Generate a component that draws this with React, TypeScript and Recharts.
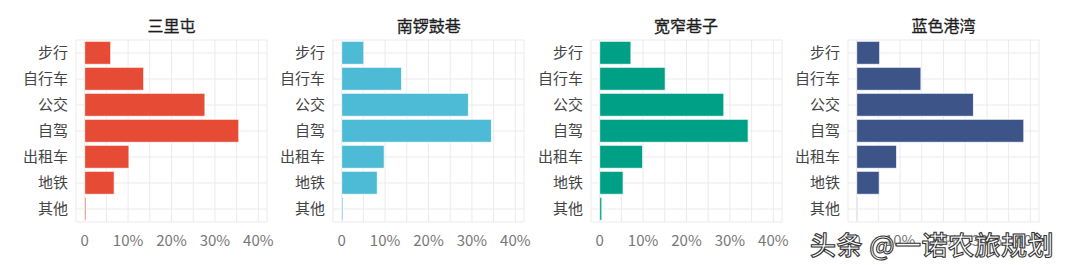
import { BarChart, Bar, CartesianGrid, XAxis, YAxis } from 'recharts';

const categories = ['步行', '自行车', '公交', '自驾', '出租车', '地铁', '其他'];
const panelTitles = ['三里屯', '南锣鼓巷', '宽窄巷子', '蓝色港湾'];
const sanlitun = [6.0, 13.6, 27.7, 35.5, 10.2, 6.8, 0.3];
const nanluogu = [5.1, 13.8, 29.2, 34.5, 9.8, 8.2, 0.3];
const kuanzhai = [7.2, 15.1, 28.6, 34.2, 9.9, 5.4, 0.5];
const lanse = [5.3, 14.8, 26.9, 38.5, 9.2, 5.2, 0.2];
const xTicks = [0, 5, 10, 15, 20, 25, 30, 35, 40];
const watermark = '头条 @一诺农旅规划';

const colors = ['#E64B35', '#4DBBD5', '#00A087', '#3C5488'];
const allValues = [sanlitun, nanluogu, kuanzhai, lanse];

const FONT = '"Noto Sans CJK SC", "Noto Sans", sans-serif';
const Y_W = 76;
const PLOT_W = 191;
const RIGHT = 14;

const fmt = (v: number) => (v % 10 !== 0 ? '' : v === 0 ? '0' : v + '%');

type PanelProps = {
    title: string
    values: number[]
    color: string
    left: number
}

const Panel = ({ title, values, color, left }: PanelProps) => {
    const data: any[] = [];
    for (let i = 0; i < categories.length; i++) {
        data.push({ name: categories[i], value: values[i] });
    }

    const w = Y_W + PLOT_W + RIGHT;

    return <div style={{ position: 'absolute', top: 0, left: left - Y_W, width: w, height: 265 }}>
        <div style={{
            position: 'absolute', top: 14, left: Y_W, width: PLOT_W, textAlign: 'center',
            fontFamily: FONT, fontSize: 16, fontWeight: 400, color: '#1e1e1e', lineHeight: '22px',
            WebkitTextStroke: '0.3px #1e1e1e'
        }}>{title}</div>
        <BarChart width={w} height={265} data={data} layout="vertical"
            margin={{ top: 40, right: RIGHT, bottom: 13, left: 0 }} barCategoryGap="5%">
            <CartesianGrid stroke="#EBEBEB" strokeWidth={1} />
            <XAxis type="number" domain={[-2, 42]} ticks={xTicks} interval={0} allowDataOverflow
                axisLine={false} tickLine={false} tickFormatter={fmt} tickMargin={7}
                tick={{ fill: '#777', fontSize: 15, fontFamily: FONT }} />
            <YAxis type="category" dataKey="name" width={Y_W} interval={0}
                axisLine={false} tickLine={false}
                tick={{ fill: '#444', fontSize: 15, fontFamily: FONT }} />
            <Bar dataKey="value" fill={color} stroke="#ffffff" strokeWidth={0.8} isAnimationActive={false} />
        </BarChart>
    </div>
}

const App = () => {
    return <div style={{ position: 'absolute', top: 0, left: 0, width: 1070, height: 265, background: '#fff', overflow: 'hidden' }}>
        {panelTitles.map((t, i) =>
            <Panel key={t} title={t} values={allValues[i]} color={colors[i]} left={76 + i * 257.3} />
        )}
        <div style={{
            position: 'absolute', left: 810, top: 225, fontFamily: FONT, fontSize: 26, fontWeight: 500,
            color: '#fff', whiteSpace: 'nowrap', letterSpacing: 0.5,
            WebkitTextStroke: '1px #333', textShadow: '0 0 1px #555'
        }}>{watermark}</div>
    </div>
}

export default App;
